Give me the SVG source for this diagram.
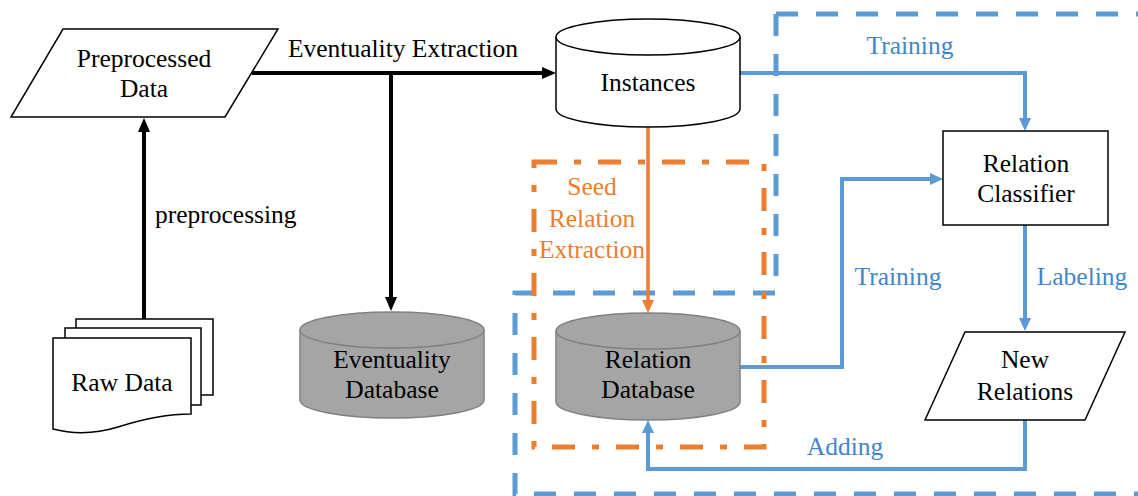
<svg xmlns="http://www.w3.org/2000/svg" width="1138" height="496" viewBox="0 0 1138 496">
<style>
text{font-family:"Liberation Serif","Times New Roman",serif;font-size:25.5px;text-anchor:middle}
.t{fill:#000}
.tb{fill:#4286C8}
.to{fill:#ED7D31}
.shape{fill:#fff;stroke:#000;stroke-width:1.5}
.gray{fill:#A5A5A5;stroke:#808080;stroke-width:1.5}
.cb{fill:none;stroke:#000;stroke-width:4}
.cbl{fill:none;stroke:#5B9BD5;stroke-width:4}
.co{fill:none;stroke:#ED7D31;stroke-width:3.5}
.frame-b{fill:none;stroke:#5B9BD5;stroke-width:5;stroke-dasharray:22 18}
.frame-o{fill:none;stroke:#ED7D31;stroke-width:5;stroke-dasharray:23 17 7 17}
</style>
<defs>
<marker id="ab" markerUnits="userSpaceOnUse" markerWidth="14" markerHeight="12" refX="6" refY="6" orient="auto"><path d="M0,0 L14,6 L0,12 Z" fill="#000"/></marker>
<marker id="abl" markerUnits="userSpaceOnUse" markerWidth="13" markerHeight="12" refX="5" refY="6" orient="auto"><path d="M0,0 L13,6 L0,12 Z" fill="#5B9BD5"/></marker>
<marker id="ao" markerUnits="userSpaceOnUse" markerWidth="13" markerHeight="12" refX="5" refY="6" orient="auto"><path d="M0,0 L13,6 L0,12 Z" fill="#ED7D31"/></marker>
</defs>
<rect width="1138" height="496" fill="#fff"/>

<g id="frames">
<path class="frame-b" d="M776,14 H1145"/>
<path class="frame-b" d="M776,14 V293 H515 V494 H1145"/>
<rect class="frame-o" x="534" y="162" width="230" height="285"/>
</g>

<g id="connectors">
<path class="cb" d="M144,319 V126" marker-end="url(#ab)"/>
<path class="cb" d="M252,73 H548" marker-end="url(#ab)"/>
<path class="cb" d="M391,73 V303" marker-end="url(#ab)"/>
<path class="co" d="M648,127 V305" marker-end="url(#ao)"/>
<path class="cbl" d="M740,73 H1025 V123" marker-end="url(#abl)"/>
<path class="cbl" d="M740,367 H842 V179 H935" marker-end="url(#abl)"/>
<path class="cbl" d="M1025,225 V323" marker-end="url(#abl)"/>
<path class="cbl" d="M1025,420 V469 H648 V428" marker-end="url(#abl)"/>
<text class="t" x="403" y="57">Eventuality Extraction</text>
<text class="t" x="155" y="223" style="text-anchor:start">preprocessing</text>
<text class="tb" x="910" y="54">Training</text>
<text class="tb" x="898" y="285">Training</text>
<text class="tb" x="1082" y="285">Labeling</text>
<text class="tb" x="845" y="455">Adding</text>
<text class="to" x="592" y="195">Seed</text>
<text class="to" x="592" y="227">Relation</text>
<text class="to" x="592" y="258">Extraction</text>
</g>

<g id="raw-data">
<rect class="shape" x="76" y="319" width="137" height="76"/>
<rect class="shape" x="65" y="328" width="136" height="77"/>
<path class="shape" d="M53,338 H191 V414 C165,414 140,420 118,427 C95,434 72,434 53,429 Z"/>
<text class="t" x="122" y="391">Raw Data</text>
</g>

<g id="preprocessed-data">
<path class="shape" d="M63,29 H278 L225,117 H11 Z"/>
<text class="t" x="144" y="67">Preprocessed</text>
<text class="t" x="144" y="97">Data</text>
</g>

<g id="instances">
<path class="shape" d="M556,37 V109 A92,18 0 0 0 740,109 V37"/>
<ellipse class="shape" cx="648" cy="37" rx="92" ry="18"/>
<text class="t" x="648" y="91">Instances</text>
</g>

<g id="eventuality-database">
<path class="gray" d="M300,330 V400 A92,18 0 0 0 484,400 V330"/>
<ellipse class="gray" cx="392" cy="330" rx="92" ry="18"/>
<text class="t" x="392" y="368">Eventuality</text>
<text class="t" x="392" y="398">Database</text>
</g>

<g id="relation-database">
<path class="gray" d="M556,331 V402 A92,18 0 0 0 740,402 V331"/>
<ellipse class="gray" cx="648" cy="331" rx="92" ry="18"/>
<text class="t" x="648" y="368">Relation</text>
<text class="t" x="648" y="398">Database</text>
</g>

<g id="relation-classifier">
<rect class="shape" x="943" y="131" width="165" height="94"/>
<text class="t" x="1026" y="172">Relation</text>
<text class="t" x="1026" y="202">Classifier</text>
</g>

<g id="new-relations">
<path class="shape" d="M965,332 H1125 L1085,420 H925 Z"/>
<text class="t" x="1025" y="368">New</text>
<text class="t" x="1025" y="400">Relations</text>
</g>
</svg>
